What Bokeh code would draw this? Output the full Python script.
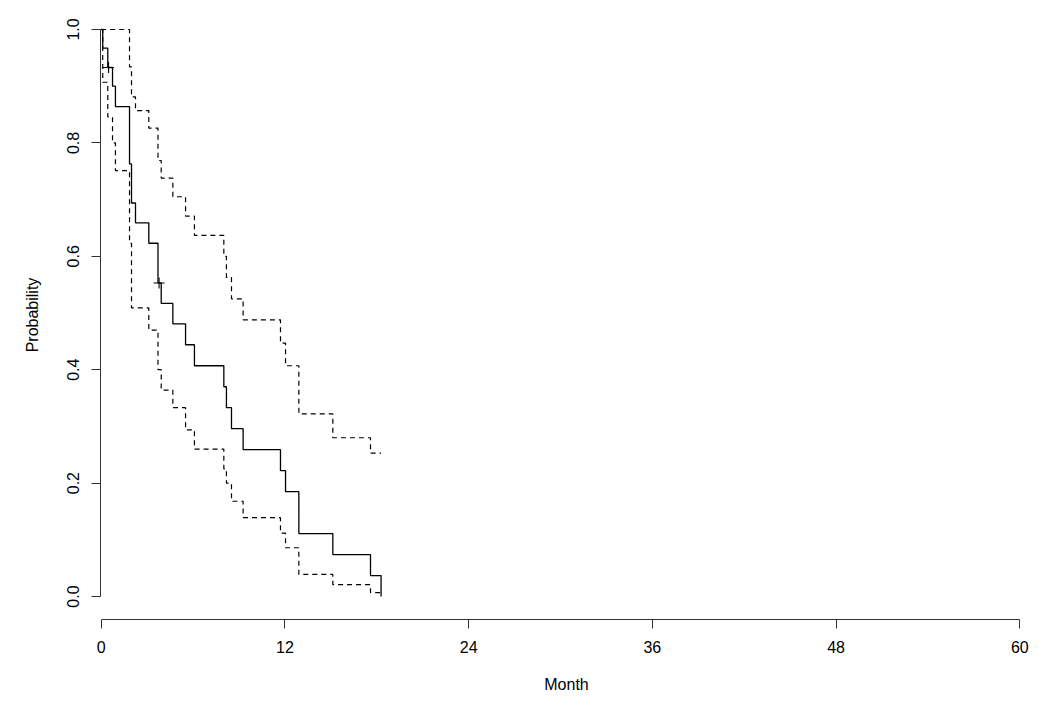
from bokeh.plotting import figure
from bokeh.models import Range1d, FixedTicker, PrintfTickFormatter
from bokeh.embed import file_html
from bokeh.resources import INLINE

# Kaplan-Meier estimate (months, survival probability)
km_time = [0, 0.10, 0.43, 0.74, 0.93, 1.85, 1.98, 2.24, 3.11, 3.71, 3.92, 4.68, 5.51,
           6.09, 8.01, 8.18, 8.51, 9.27, 11.71, 12.04, 12.91, 15.13, 17.59, 18.28]
km_surv = [1.0, 0.967, 0.933, 0.900, 0.864, 0.763, 0.694, 0.659, 0.623, 0.553, 0.517, 0.481, 0.444,
           0.407, 0.370, 0.333, 0.296, 0.259, 0.222, 0.185, 0.111, 0.074, 0.037, 0.0]

# Upper confidence limit
up_time = [0, 1.85, 1.98, 2.24, 3.11, 3.71, 3.92, 4.68, 5.51, 6.09, 8.01, 8.18, 8.51,
           9.27, 11.71, 12.04, 12.91, 15.13, 17.59, 18.28]
up_surv = [1.0, 0.934, 0.881, 0.857, 0.826, 0.769, 0.738, 0.705, 0.671, 0.637, 0.600, 0.563, 0.525,
           0.488, 0.447, 0.407, 0.322, 0.280, 0.253, 0.253]

# Lower confidence limit
lo_time = [0, 0.10, 0.43, 0.74, 0.93, 1.85, 1.98, 3.11, 3.71, 3.92, 4.68, 5.51, 6.09,
           8.01, 8.18, 8.51, 9.27, 11.71, 12.04, 12.91, 15.13, 17.59, 18.28]
lo_surv = [1.0, 0.907, 0.846, 0.800, 0.751, 0.623, 0.509, 0.470, 0.400, 0.364, 0.333, 0.294, 0.260,
           0.225, 0.200, 0.168, 0.139, 0.112, 0.086, 0.039, 0.021, 0.007, 0.007]

# Censored observations
cens_time = [0.48, 3.78]
cens_surv = [0.933, 0.553]

x_ticks = [0, 12, 24, 36, 48, 60]
y_ticks = [0.0, 0.2, 0.4, 0.6, 0.8, 1.0]

FONT = "Liberation Sans"

p = figure(width=1034, height=695, output_backend="svg", toolbar_location=None,
           x_range=Range1d(-0.0457, 60.83), y_range=Range1d(-0.0405, 1.0335),
           min_border_left=100, min_border_right=2, min_border_top=10, min_border_bottom=75)
p.outline_line_color = None
p.grid.visible = False
p.background_fill_color = "white"
p.border_fill_color = "white"

p.step(km_time, km_surv, mode="after", line_color="black", line_width=1.3)
p.step(up_time, up_surv, mode="after", line_color="black", line_width=1.2, line_dash="5 4")
p.step(lo_time, lo_surv, mode="after", line_color="black", line_width=1.2, line_dash="5 4")
p.scatter(cens_time, cens_surv, marker="cross", size=11, line_color="black", line_width=1.1)

for ax in (p.xaxis[0], p.yaxis[0]):
    ax.axis_line_color = "#333333"
    ax.major_tick_line_color = "#333333"
    ax.minor_tick_line_color = None
    ax.major_tick_out = 9
    ax.major_tick_in = 0
    ax.major_label_standoff = 12
    ax.major_label_text_font = FONT
    ax.major_label_text_font_size = "16px"
    ax.major_label_text_color = "black"
    ax.axis_label_text_font = FONT
    ax.axis_label_text_font_size = "16px"
    ax.axis_label_text_font_style = "normal"
    ax.axis_label_text_color = "black"

xa = p.xaxis[0]
xa.ticker = FixedTicker(ticks=x_ticks)
xa.bounds = (0, 60)
xa.axis_label = "Month"
xa.axis_label_standoff = 20

ya = p.yaxis[0]
ya.ticker = FixedTicker(ticks=y_ticks)
ya.bounds = (0, 1)
ya.formatter = PrintfTickFormatter(format="%.1f")
ya.major_label_orientation = "vertical"
ya.axis_label = "Probability"
ya.axis_label_standoff = 24

open("out.html", "w").write(file_html(p, INLINE))
